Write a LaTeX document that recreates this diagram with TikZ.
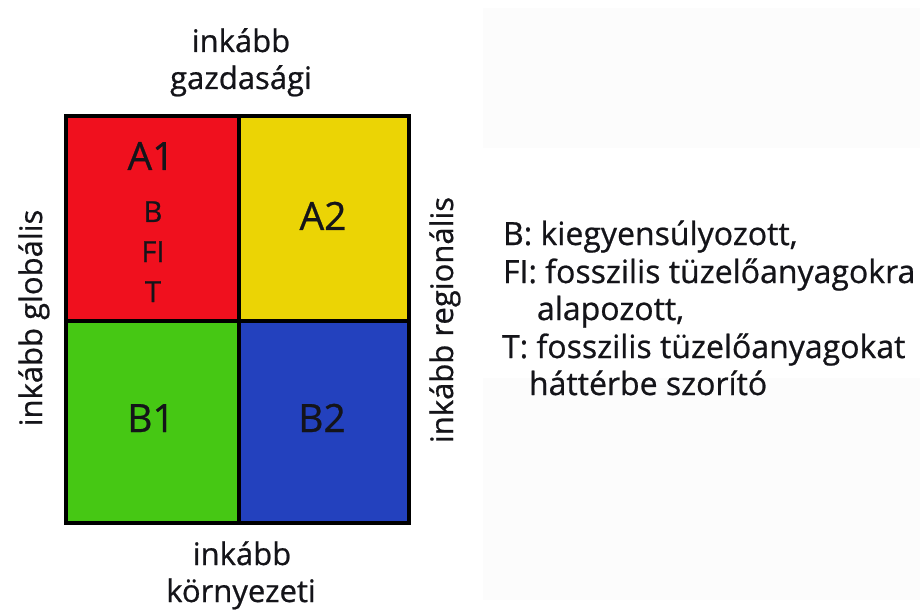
\documentclass[tikz,border=0pt]{standalone}
\usepackage{fontspec}
\setmainfont{Open Sans}[FakeBold=0.7]
\definecolor{cred}{RGB}{240,16,30}
\definecolor{cyellow}{RGB}{235,212,5}
\definecolor{cgreen}{RGB}{70,200,20}
\definecolor{cblue}{RGB}{35,65,190}
\definecolor{ctext}{RGB}{20,20,25}
\definecolor{cpanel}{RGB}{252,252,252}
\tikzset{
  cell/.style={draw=black, line width=4pt, inner sep=0pt, outer sep=0pt, minimum width=#1},
  lbl/.style={inner sep=0pt, outer sep=0pt, text=ctext, font=\fontsize{31}{37}\selectfont},
  big/.style={inner sep=0pt, text=ctext, anchor=base, font=\fontsize{39}{44}\selectfont},
  small/.style={inner sep=0pt, text=ctext, anchor=base, font=\fontsize{29}{34}\selectfont},
  leg/.style={inner sep=0pt, outer sep=0pt, anchor=base west, text=ctext, font=\fontsize{32}{37}\selectfont},
}
\begin{document}
\begin{tikzpicture}[x=1pt,y=-1pt]
\useasboundingbox (0,0) rectangle (920,612);
\fill[white] (0,0) rectangle (920,612);
% faint panel on the right
\fill[cpanel] (483,8) rectangle (920,148);
\fill[cpanel] (483,378) rectangle (920,600);
% cells
\node[cell=173pt, minimum height=205pt, fill=cred] (c11) at (152.5,218.5) {};
\node[cell=170pt, minimum height=205pt, fill=cyellow] (c12) at (324,218.5) {};
\node[cell=173pt, minimum height=202pt, fill=cgreen] (c21) at (152.5,422) {};
\node[cell=170pt, minimum height=202pt, fill=cblue] (c22) at (324,422) {};
% cell labels
\node[big] (a1) at (151,170) {A1};
\node[small] (sb) at (153,222) {B};
\node[small] (sfi) at (153,262) {FI};
\node[small] (st) at (153,302) {T};
\node[big] (a2) at (323,230) {A2};
\node[big] (b1) at (151,432) {B1};
\node[big] (b2) at (322,432) {B2};
% axis labels
\node[lbl, anchor=base] (t1) at (241,52) {inkább};
\node[lbl, anchor=base] (t2) at (241,89) {gazdasági};
\node[lbl, anchor=base] (d1) at (242,565) {inkább};
\node[lbl, anchor=base] (d2) at (241,602) {környezeti};
\node[lbl, anchor=base, rotate=90] (lft) at (42,318) {inkább globális};
\node[lbl, anchor=base, rotate=90] (rgt) at (453,320) {inkább regionális};
% legend
\node[leg] (l1) at (503,245) {B: kiegyensúlyozott,};
\node[leg] (l2) at (503,283) {FI: fosszilis tüzelőanyagokra};
\node[leg] (l3) at (537,320) {alapozott,};
\node[leg] (l4) at (502,358) {T: fosszilis tüzelőanyagokat};
\node[leg] (l5) at (529,395) {háttérbe szorító};
\end{tikzpicture}
\end{document}
